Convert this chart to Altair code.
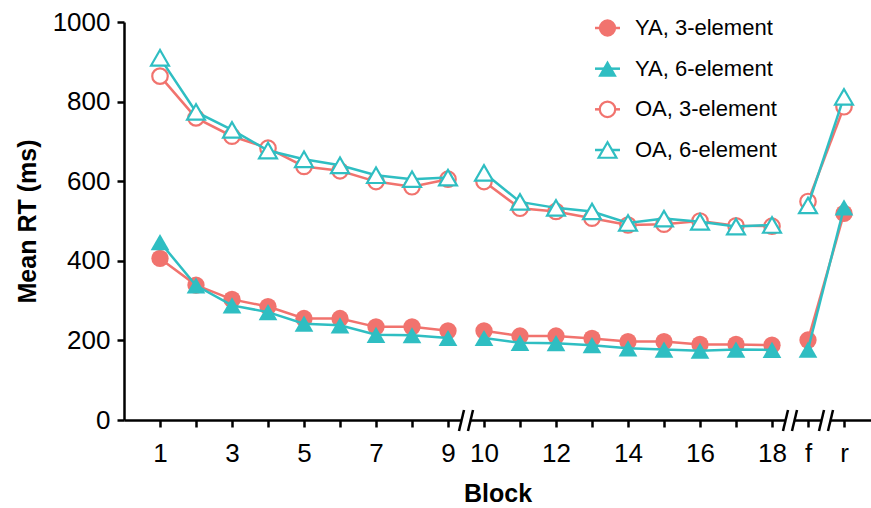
import altair as alt
import pandas as pd

# Block labels along the x axis (positions 1..20)
blocks = [str(b) for b in range(1, 19)] + ["f", "r"]
segments = ["A"] * 9 + ["B"] * 9 + ["C"] * 2
tick_labels = ["1", "", "3", "", "5", "", "7", "", "9", "10", "", "12", "",
               "14", "", "16", "", "18", "f", "r"]
axis_breaks = [9.5, 18.5, 19.5]

# Mean RT (ms) per block
ya_3 = [406, 339, 303, 285, 255, 255, 234, 234, 224, 224,
        211, 211, 205, 197, 197, 190, 190, 188, 201, 519]
ya_6 = [447, 338, 288, 271, 242, 238, 214, 213, 206, 206,
        194, 193, 188, 180, 177, 174, 177, 176, 177, 534]
oa_3 = [864, 759, 713, 683, 637, 626, 599, 586, 605, 599,
        532, 524, 507, 490, 492, 500, 488, 487, 549, 787]
oa_6 = [910, 774, 729, 677, 655, 640, 615, 605, 609, 621,
        548, 533, 524, 495, 506, 498, 486, 490, 539, 812]

series_names = ["YA, 3-element", "YA, 6-element", "OA, 3-element", "OA, 6-element"]
series_values = [ya_3, ya_6, oa_3, oa_6]
series_colors = ["#F1736E", "#2FBEC2", "#F1736E", "#2FBEC2"]
series_shapes = ["circle", "triangle-up", "circle", "triangle-up"]
series_filled = [True, True, False, False]
series_sizes = [300, 350, 240, 320]

rows = []
for name, vals in zip(series_names, series_values):
    for i, (blk, seg, v) in enumerate(zip(blocks, segments, vals)):
        rows.append({"series": name, "pos": i + 1, "block": blk,
                     "segment": seg, "rt": v})
df = pd.DataFrame(rows)
legend_df = pd.DataFrame({"series": series_names})
breaks_df = pd.DataFrame({"pos": axis_breaks})

PLOT_W, PLOT_H = 747, 398
FONT = "Liberation Sans"

x_scale = alt.Scale(domain=[0, 20.75], nice=False, zero=False)
y_scale = alt.Scale(domain=[0, 1000], nice=False)
color_scale = alt.Scale(domain=series_names, range=series_colors)
shape_scale = alt.Scale(domain=series_names, range=series_shapes)

label_array = "[" + ",".join(f"'{t}'" for t in tick_labels) + "]"

x_axis = alt.Axis(
    values=list(range(1, len(blocks) + 1)),
    labelExpr=f"{label_array}[datum.value - 1]",
    title="Block", grid=False, tickSize=7, tickWidth=2.5, domainWidth=2.5,
    domainColor="black", tickColor="black", labelColor="black",
    labelFontSize=26, labelPadding=13, labelFlush=False, labelOverlap=False,
    titleFontSize=25, titleFontWeight="bold", titlePadding=15, titleColor="black",
)
y_axis = alt.Axis(
    values=[0, 200, 400, 600, 800, 1000], format="d", title="Mean RT (ms)",
    grid=False, tickSize=7, tickWidth=2.5, domainWidth=2.5, domainColor="black",
    tickColor="black", labelColor="black", labelFontSize=26, labelPadding=7,
    titleFontSize=25, titleFontWeight="bold", titlePadding=12, titleColor="black",
)

X = alt.X("pos:Q", scale=x_scale, axis=x_axis)
Y = alt.Y("rt:Q", scale=y_scale, axis=y_axis)
C = alt.Color("series:N", scale=color_scale, legend=None)
S = alt.Shape("series:N", scale=shape_scale, legend=None)


def point_mark(filled, size):
    if filled:
        return dict(filled=True, opacity=1, size=size)
    return dict(filled=False, fill="white", fillOpacity=1, opacity=1,
                strokeWidth=2.2, size=size)


main_layers = []
for name, filled, size in zip(series_names, series_filled, series_sizes):
    base = alt.Chart(df).transform_filter(alt.datum.series == name)
    main_layers.append(
        base.mark_line(strokeWidth=2.5).encode(x=X, y=Y, color=C, detail="segment:N")
    )
    main_layers.append(
        base.mark_point(**point_mark(filled, size)).encode(x=X, y=Y, color=C, shape=S)
    )

# Axis breaks: white gap in the x axis line plus two slashes
brk = alt.Chart(breaks_df)
main_layers.append(
    brk.transform_calculate(a="datum.pos - 0.11", b="datum.pos + 0.11")
    .mark_rect(color="white")
    .encode(x=alt.X("a:Q", scale=x_scale, axis=x_axis), x2="b:Q",
            y=alt.value(PLOT_H - 4), y2=alt.value(PLOT_H + 4))
)
for off in (-0.125, 0.125):
    main_layers.append(
        brk.transform_calculate(a=f"datum.pos + {off} - 0.07",
                                b=f"datum.pos + {off} + 0.07")
        .mark_rule(color="black", strokeWidth=2.5)
        .encode(x=alt.X("a:Q", scale=x_scale, axis=x_axis), x2="b:Q",
                y=alt.value(PLOT_H + 11), y2=alt.value(PLOT_H - 10))
    )

main = alt.layer(*main_layers)

# Legend built from the series list
LY = alt.Y("series:N", axis=None,
           scale=alt.Scale(type="point", domain=series_names, range=[6, 128], padding=0))
legend_layers = []
for name, filled, size in zip(series_names, series_filled, series_sizes):
    lb = alt.Chart(legend_df).transform_filter(alt.datum.series == name)
    legend_layers.append(
        lb.mark_rule(strokeWidth=2.5).encode(
            x=alt.value(471), x2=alt.value(496), y=LY, color=C)
    )
    legend_layers.append(
        lb.mark_point(**point_mark(filled, size)).encode(
            x=alt.value(483.5), y=LY, color=C, shape=S)
    )
legend_layers.append(
    alt.Chart(legend_df).mark_text(align="left", baseline="middle", fontSize=22,
                                   color="black", font=FONT)
    .encode(x=alt.value(511), y=LY, text="series:N")
)
legend = alt.layer(*legend_layers)

chart = (
    alt.layer(main, legend)
    .resolve_scale(y="independent")
    .properties(width=PLOT_W, height=PLOT_H,
                autosize=alt.AutoSizeParams(type="none"),
                padding={"left": 124, "top": 22, "right": 0, "bottom": 88})
    .configure(font=FONT)
    .configure_view(stroke=None)
    .configure_axis(labelFont=FONT, titleFont=FONT)
)

chart.save("out.html", embed_options={"renderer": "svg", "actions": False})
